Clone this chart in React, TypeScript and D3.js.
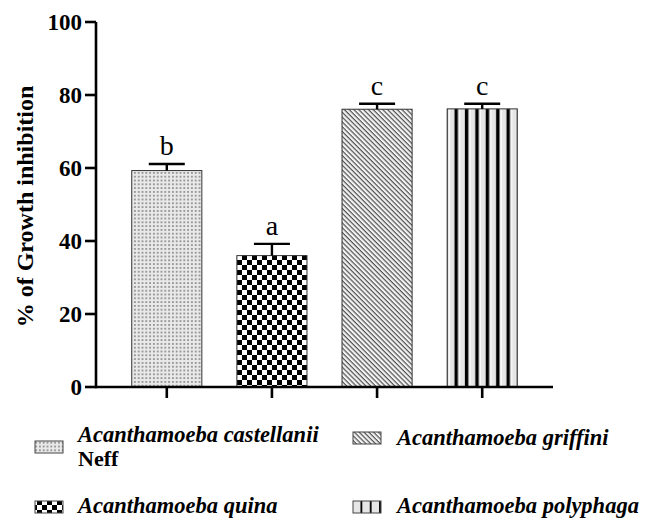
import React from 'react';
import * as d3 from 'd3';

const species = ['castellanii', 'quina', 'griffini', 'polyphaga'];
const legendNames = ['Acanthamoeba castellanii', 'Acanthamoeba quina', 'Acanthamoeba griffini', 'Acanthamoeba polyphaga'];
const means = [59.3, 36.0, 76.1, 76.2];
const errors = [1.8, 3.2, 1.5, 1.4];
const letters = ['b', 'a', 'c', 'c'];
const yTicks = [0, 20, 40, 60, 80, 100];

const W = 646;
const H = 518;
const serif = '"Liberation Serif", "Times New Roman", serif';

const x = d3.scaleBand<string>().domain(species).range([96, 553]).paddingInner(1 / 3).paddingOuter(0.34);
const y = d3.scaleLinear().domain([0, 100]).range([387, 22]);

const fills = ['url(#dots)', 'url(#checks)', 'url(#diag)', 'url(#vstripes)'];

// legend slots: [swatch x, swatch y, text x, text baseline]
const legendSlots: [number, number, number, number][] = [
  [35, 441, 78, 442],
  [35, 501, 78, 513],
  [353, 432, 397, 445],
  [353, 501, 397, 513],
];

const Patterns = () => (
  <defs>
    <pattern id="dots" patternUnits="userSpaceOnUse" width={3.8} height={3.8}>
      <rect width={3.8} height={3.8} fill="#e9e9e9" />
      <rect x={1.3} y={1.3} width={1.2} height={1.2} fill="#222" />
    </pattern>
    <pattern id="checks" patternUnits="userSpaceOnUse" width={10} height={10} x={237} y={0}>
      <rect width={10} height={10} fill="#fff" />
      <rect width={5} height={5} fill="#000" />
      <rect x={5} y={5} width={5} height={5} fill="#000" />
    </pattern>
    <pattern id="diag" patternUnits="userSpaceOnUse" width={3.4} height={3.4} patternTransform="rotate(45)">
      <rect width={3.4} height={3.4} fill="#f3f3f3" />
      <rect x={0} y={0} width={3.4} height={1.2} fill="#505050" />
    </pattern>
    <pattern id="vstripes" patternUnits="userSpaceOnUse" width={10.4} height={10} x={448}>
      <rect width={10.4} height={10} fill="#e6e6e6" />
      <rect x={0.8} width={1} height={10} fill="#fff" />
      <rect x={6.5} width={3.4} height={10} fill="#000" />
    </pattern>
    <pattern id="vstripesL" patternUnits="userSpaceOnUse" width={9.3} height={10} x={353}>
      <rect width={9.3} height={10} fill="#e6e6e6" />
      <rect x={7.5} width={2.8} height={10} fill="#000" />
    </pattern>
  </defs>
);

export default function App() {
  const bw = x.bandwidth();
  return (
    <svg width={W} height={H} style={{ position: 'absolute', left: 0, top: 0, background: '#fff' }} fontFamily={serif}>
      <Patterns />
      {/* bars */}
      {species.map((s, i) => (
        <rect key={s} x={x(s)} y={y(means[i])} width={bw} height={y(0) - y(means[i])}
          fill={fills[i]} stroke="#333" strokeWidth={1} />
      ))}
      {/* error bars */}
      {species.map((s, i) => {
        const cx = (x(s) as number) + bw / 2;
        const top = y(means[i] + errors[i]);
        return (
          <g key={s} stroke="#000" strokeWidth={2.4}>
            <line x1={cx} x2={cx} y1={y(means[i])} y2={top} />
            <line x1={cx - 18} x2={cx + 18} y1={top} y2={top} />
          </g>
        );
      })}
      {/* significance letters */}
      {species.map((s, i) => (
        <text key={s} x={(x(s) as number) + bw / 2} y={y(means[i] + errors[i]) - 9}
          textAnchor="middle" fontSize={28} fill="#000">{letters[i]}</text>
      ))}
      {/* y axis */}
      <line x1={96} x2={96} y1={y(100)} y2={y(0) + 1.2} stroke="#000" strokeWidth={2.6} />
      {yTicks.map(t => (
        <g key={t}>
          <line x1={85} x2={96} y1={y(t)} y2={y(t)} stroke="#000" strokeWidth={2.6} />
          <text x={82} y={y(t)} dy="0.35em" textAnchor="end" fontSize={23} fontWeight="bold">{t}</text>
        </g>
      ))}
      {/* x axis */}
      <line x1={96} x2={553} y1={y(0)} y2={y(0)} stroke="#000" strokeWidth={2.6} />
      {species.map(s => (
        <line key={s} x1={(x(s) as number) + bw / 2} x2={(x(s) as number) + bw / 2} y1={y(0)} y2={y(0) + 11}
          stroke="#000" strokeWidth={2.6} />
      ))}
      {/* y title */}
      <text transform={`translate(33,${(y(0) + y(100)) / 2 + 2}) rotate(-90)`} textAnchor="middle"
        fontSize={24} fontWeight="bold">% of Growth inhibition</text>
      {/* legend */}
      {species.map((s, i) => {
        const [sx, sy, tx, ty] = legendSlots[i];
        return (
          <g key={s}>
            <rect x={sx} y={sy} width={28} height={12} fill={i === 3 ? 'url(#vstripesL)' : fills[i]} stroke="#444" strokeWidth={1} />
            <text x={tx} y={ty} fontSize={22.5} fontWeight="bold" fontStyle="italic">
              {legendNames[i]}
            </text>
          </g>
        );
      })}
      <text x={78} y={466} fontSize={22} fontWeight="bold">Neff</text>
    </svg>
  );
}
